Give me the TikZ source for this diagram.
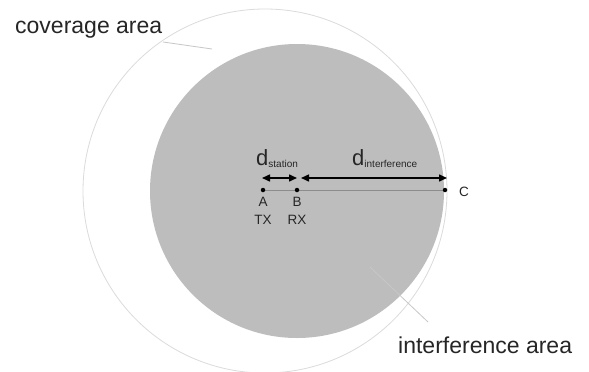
\documentclass[tikz,border=0pt]{standalone}
\usepackage{fontspec}
\setmainfont{Liberation Sans}
\usetikzlibrary{arrows.meta}
\pgfdeclarelayer{under}
\pgfsetlayers{under,main}
\begin{document}
\begin{tikzpicture}[x=1pt,y=-1pt,
  dot/.style={circle,fill=black,inner sep=0pt,minimum size=4.5pt},
  lbl/.style={font=\fontsize{13.5}{13.5}\selectfont,inner sep=0pt,text=black!85},
  big/.style={font=\fontsize{23}{24}\selectfont,inner sep=0pt,text=black!85},
  leader/.style={draw=black!22,line width=0.8pt},
  dimline/.style={{Triangle[length=8pt,width=7pt]}-{Triangle[length=8pt,width=7pt]},line width=1.5pt,shorten <=0pt,shorten >=0pt}]
\useasboundingbox (0,0) rectangle (589,372);
\begin{pgfonlayer}{under}
\fill[white] (0,0) rectangle (589,372);
% areas
\draw[black!14,line width=0.8pt] (265,191) circle[radius=182];
\fill[black!26] (297,191) circle[radius=147];
\end{pgfonlayer}
% labels of the areas
\node[big,anchor=base west] (cov) at (15,33) {coverage area};
\node[big,anchor=base west] (intf) at (398,353) {interference area};
\coordinate (covend) at (212,49);
\coordinate (intfstart) at (370,267);
\draw[leader] (163,42) -- (covend);
\draw[leader] (intfstart) -- (428,322);
% stations
\node[dot] (a) at (263,190) {};
\node[dot] (b) at (297,190) {};
\node[dot] (c) at (445,190) {};
\begin{pgfonlayer}{under}
\draw[black!45,line width=0.6pt] (a.center) -- (c.center);
\end{pgfonlayer}
\node[lbl,anchor=center] (al) at (263,202) {A};
\node[lbl,anchor=center] (atx) at (263,220) {TX};
\node[lbl,anchor=center] (bl) at (297,202) {B};
\node[lbl,anchor=center] (brx) at (297,220) {RX};
\node[lbl,anchor=center] (cl) at (464,192) {C};
% dimension arrows
\coordinate (a1) at (262,178);
\coordinate (b1) at (297,178);
\coordinate (b2) at (301,178);
\coordinate (c1) at (447,178);
\draw[dimline] (a1) -- (b1);
\draw[dimline] (b2) -- (c1);
\node[inner sep=0pt,anchor=base west,text=black!85] (dst) at (256,165)
  {{\fontsize{22}{22}\selectfont d}\raisebox{-2pt}{\fontsize{10}{10}\selectfont station}};
\node[inner sep=0pt,anchor=base west,text=black!85] (dint) at (352,165)
  {{\fontsize{22}{22}\selectfont d}\raisebox{-2pt}{\fontsize{10}{10}\selectfont interference}};
\end{tikzpicture}
\end{document}
